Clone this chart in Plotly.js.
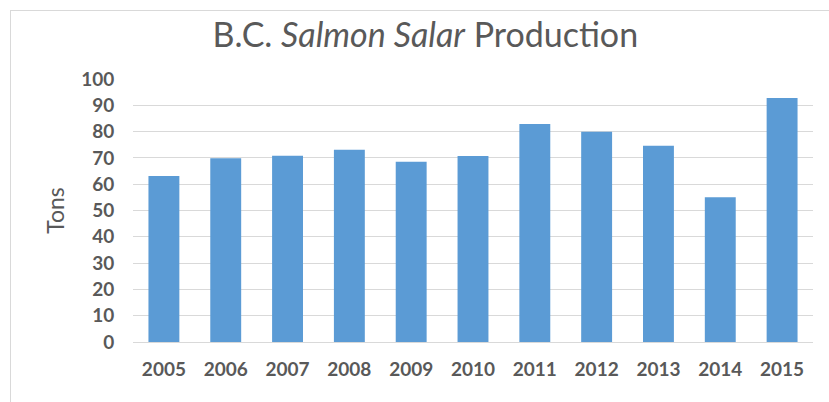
<!DOCTYPE html>
<html>
<head>
<meta charset="utf-8">
<script src="https://cdn.plot.ly/plotly-3.0.1.min.js"></script>
<style>html,body{margin:0;padding:0;background:#fff;}#chart{width:829px;height:402px;}</style>
</head>
<body>
<div id="chart"></div>
<script>
const years = ['2005','2006','2007','2008','2009','2010','2011','2012','2013','2014','2015'];
const tons = [63.1, 69.9, 70.8, 73.1, 68.5, 70.7, 82.9, 79.9, 74.6, 55.0, 92.8];
const yTicks = [0,10,20,30,40,50,60,70,80,90,100];

const W = 829, H = 402;
const m = {l:133, r:16, t:79, b:60};
const pw = W - m.l - m.r, ph = H - m.t - m.b;
function px(x){ return (x - m.l)/pw; }
function py(y){ return (H - m.b - y)/ph; }

const data = [{
  type:'bar', x: years, y: tons,
  marker:{color:'#5B9BD5'},
  hoverinfo:'x+y'
}];

const layout = {
  width:W, height:H,
  margin:m,
  paper_bgcolor:'#fff', plot_bgcolor:'#fff',
  bargap:0.5,
  showlegend:false,
  font:{family:'Lato, sans-serif', color:'#595959'},
  title:{text:'B.C. <i>Salmon Salar</i> Production', font:{family:'Lato, sans-serif', size:34, color:'#595959'}, x:0.513, xanchor:'center', y:1-35/H, yanchor:'middle'},
  xaxis:{type:'category', showgrid:false, zeroline:false, showline:true, linecolor:'#d9d9d9', linewidth:1,
         ticks:'outside', ticklen:10, tickcolor:'rgba(0,0,0,0)',
         tickfont:{family:'Lato, sans-serif', size:19, color:'#595959', weight:'bold'}},
  yaxis:{range:[0,100], tickvals:yTicks, ticktext:yTicks.map(String), showgrid:true, gridcolor:'#d9d9d9', gridwidth:1,
         zeroline:false, showline:false, ticks:'outside', ticklen:14, tickcolor:'rgba(0,0,0,0)',
         tickfont:{family:'Lato, sans-serif', size:19, color:'#595959', weight:'bold'},
         title:{text:'Tons', font:{family:'Lato, sans-serif', size:23, color:'#595959'}, standoff:10}},
  shapes:[
    {type:'line', xref:'paper', yref:'paper', x0:px(10), x1:px(829), y0:py(10.5), y1:py(10.5), line:{color:'#d9d9d9', width:1}},
    {type:'line', xref:'paper', yref:'paper', x0:px(10.5), x1:px(10.5), y0:py(10), y1:py(402), line:{color:'#d9d9d9', width:1}}
  ]
};

Plotly.newPlot('chart', data, layout, {displayModeBar:false, staticPlot:true});
</script>
</body>
</html>
